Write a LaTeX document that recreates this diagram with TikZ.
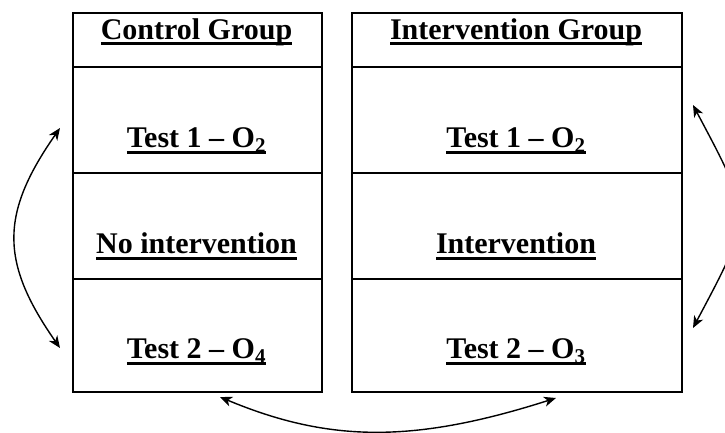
\documentclass[tikz,border=0pt]{standalone}
\usepackage{fontspec}
\setmainfont{Liberation Serif}
\usetikzlibrary{arrows.meta}

% bold text with a heavy underline beneath the whole run
\newcommand\ulbox[1]{\sbox0{#1}\rlap{\rule[-6pt]{\wd0}{3pt}}\usebox0}

\begin{document}
\begin{tikzpicture}[x=1pt,y=-1pt,
  outer/.style={draw, line width=2pt, rectangle, inner sep=0pt, anchor=north west},
  thick sep/.style={line width=2pt},
  thin sep/.style={line width=1.2pt},
  lbl/.style={anchor=base, inner sep=0pt, font=\fontsize{30}{36}\selectfont\bfseries},
  arr/.style={line width=1.4pt,
    {Stealth[length=12pt,width=10pt,inset=3.5pt]}-{Stealth[length=12pt,width=10pt,inset=3.5pt]}}]

\fill[white] (0,0) rectangle (725,433);
\useasboundingbox (0,0) rectangle (725,433);

% control group column
\node[outer, minimum width=249pt, minimum height=379pt] (ctl) at (72,12) {};
\draw[thick sep] (72,67) -- (321,67);
\draw[thin sep]  (72,173) -- (321,173);
\draw[thick sep] (72,279) -- (321,279);
\node[lbl] (ch) at (196.5,39.5)  {\ulbox{Control Group}};
\node[lbl] (c1) at (196.5,147.5) {\ulbox{Test 1 -- O\textsubscript{2}}};
\node[lbl] (c2) at (196.5,253.5) {\ulbox{No intervention}};
\node[lbl] (c3) at (196.5,358.5) {\ulbox{Test 2 -- O\textsubscript{4}}};

% intervention group column
\node[outer, minimum width=330pt, minimum height=379pt] (itv) at (351,12) {};
\draw[thick sep] (351,67) -- (681,67);
\draw[thin sep]  (351,173) -- (681,173);
\draw[thick sep] (351,279) -- (681,279);
\node[lbl] (ih) at (516,39.5)  {\ulbox{Intervention Group}};
\node[lbl] (i1) at (516,147.5) {\ulbox{Test 1 -- O\textsubscript{2}}};
\node[lbl] (i2) at (516,253.5) {\ulbox{Intervention}};
\node[lbl] (i3) at (516,358.5) {\ulbox{Test 2 -- O\textsubscript{3}}};

% comparison arrows
\coordinate (la) at (60,128);
\coordinate (lb) at (60,348);
\draw[arr] (la) .. controls (0,214) and (0,262) .. (lb);

\coordinate (ra) at (693,105);
\coordinate (rb) at (693,328);
\draw[arr] (ra) .. controls (753,218) and (753,215) .. (rb);

\coordinate (ba) at (220,397);
\coordinate (bb) at (556,398);
\draw[arr] (ba) .. controls (330,443) and (415,443) .. (bb);
\end{tikzpicture}
\end{document}
